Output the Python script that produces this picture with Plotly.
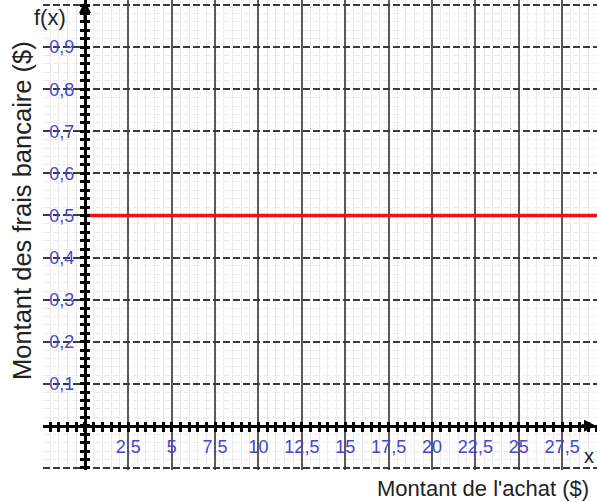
import plotly.graph_objects as go

# ---- data ----
x_vals = [0, 30]
f_vals = [0.5, 0.5]

x_tickvals = [-2.5, 2.5, 5, 7.5, 10, 12.5, 15, 17.5, 20, 22.5, 25, 27.5]
x_ticktext = ["", "2,5", "5", "7,5", "10", "12,5", "15", "17,5", "20", "22,5", "25", "27,5"]
y_tickvals = [-0.1, 0.1, 0.2, 0.3, 0.4, 0.5, 0.6, 0.7, 0.8, 0.9, 1.0]
y_ticktext = ["", "0,1", "0,2", "0,3", "0,4", "0,5", "0,6", "0,7", "0,8", "0,9", ""]

x_title = "Montant de l'achat ($)"
y_title = "Montant des frais bancaire ($)"

# ---- layout geometry ----
W, H = 597, 502
x_range = [-2.42, 29.51]
y_range = [-0.105, 1.012]
dom_x = [43 / W, 1.0]
dom_y = [32 / H, 1.0]

pos_y_axis = dom_x[0] + (0 - x_range[0]) / (x_range[1] - x_range[0]) * (dom_x[1] - dom_x[0])
pos_x_axis = dom_y[0] + (0 - y_range[0]) / (y_range[1] - y_range[0]) * (dom_y[1] - dom_y[0])

FONT = "Liberation Sans, Arial, sans-serif"
LBL = "#4646cf"

fig = go.Figure()
fig.add_trace(go.Scatter(x=x_vals, y=f_vals, mode="lines",
                         line=dict(color="#f01010", width=3.5), hoverinfo="skip",
                         showlegend=False))
# helper traces so the overlay axes (opposite-direction ticks) get drawn
fig.add_trace(go.Scatter(x=[None], y=[None], xaxis="x2", yaxis="y", showlegend=False))
fig.add_trace(go.Scatter(x=[None], y=[None], xaxis="x", yaxis="y2", showlegend=False))

tick_common = dict(ticklen=4, tickwidth=2.5, tickcolor="black")

fig.update_layout(
    width=W, height=H,
    margin=dict(l=0, r=0, t=0, b=0),
    paper_bgcolor="white", plot_bgcolor="white",
    showlegend=False,
    xaxis=dict(
        range=x_range, domain=dom_x, anchor="free", position=pos_x_axis,
        tickmode="array", tickvals=x_tickvals, ticktext=x_ticktext,
        ticks="outside", **tick_common,
        showgrid=True, gridcolor="#5a5a5a", gridwidth=1.6,
        showline=True, linecolor="black", linewidth=3,
        zeroline=False,
        tickfont=dict(family=FONT, size=18, color=LBL),
        ticklabelstandoff=0,
        minor=dict(tickmode="linear", tick0=0, dtick=0.5, showgrid=True,
                   gridcolor="#ebebeb", gridwidth=1,
                   ticks="outside", ticklen=4, tickwidth=2.5, tickcolor="black"),
        fixedrange=True,
    ),
    yaxis=dict(
        range=y_range, domain=dom_y, anchor="free", position=pos_y_axis,
        tickmode="array", tickvals=y_tickvals, ticktext=y_ticktext,
        ticks="outside", **tick_common,
        showgrid=True, gridcolor="#3a3a3a", gridwidth=1.5, griddash="7px,3px",
        showline=True, linecolor="black", linewidth=3,
        zeroline=False,
        tickfont=dict(family=FONT, size=18, color=LBL),
        ticklabelstandoff=2,
        minor=dict(tickmode="linear", tick0=0, dtick=0.02, showgrid=True,
                   gridcolor="#ebebeb", gridwidth=1,
                   ticks="outside", ticklen=4, tickwidth=2.5, tickcolor="black"),
        fixedrange=True,
    ),
    xaxis2=dict(
        range=x_range, overlaying="x", anchor="free", position=pos_x_axis,
        tickmode="array", tickvals=x_tickvals, ticks="inside", **tick_common,
        showticklabels=False, showgrid=False, zeroline=False, showline=False,
        minor=dict(tickmode="linear", tick0=0, dtick=0.5, showgrid=False,
                   ticks="inside", ticklen=4, tickwidth=2.5, tickcolor="black"),
        fixedrange=True,
    ),
    yaxis2=dict(
        range=y_range, overlaying="y", anchor="free", position=pos_y_axis,
        tickmode="array", tickvals=y_tickvals, ticks="inside", **tick_common,
        showticklabels=False, showgrid=False, zeroline=False, showline=False,
        minor=dict(tickmode="linear", tick0=0, dtick=0.02, showgrid=False,
                   ticks="inside", ticklen=4, tickwidth=2.5, tickcolor="black"),
        fixedrange=True,
    ),
    annotations=[
        # arrow on vertical axis
        dict(x=pos_y_axis, y=1.0, xref="paper", yref="paper", ax=0, ay=24,
             showarrow=True, arrowhead=2, arrowsize=0.8, arrowwidth=3,
             arrowcolor="black", text=""),
        # arrow on horizontal axis (cut by the right edge)
        dict(x=1.012, y=pos_x_axis, xref="paper", yref="paper", ax=-24, ay=0,
             showarrow=True, arrowhead=2, arrowsize=0.8, arrowwidth=3,
             arrowcolor="black", text=""),
        dict(x=50 / W, y=1 - 18 / H, xref="paper", yref="paper", text="f(x)",
             showarrow=False, font=dict(family=FONT, size=22, color="#222222"),
             xanchor="center", yanchor="middle"),
        dict(x=596 / W, y=1 - 456 / H, xref="paper", yref="paper", text="x",
             showarrow=False, font=dict(family=FONT, size=20, color="#222222"),
             xanchor="right", yanchor="middle"),
        dict(x=22 / W, y=1 - 211 / H, xref="paper", yref="paper", text=y_title,
             textangle=-90, showarrow=False,
             font=dict(family=FONT, size=25.5, color="#222222"),
             xanchor="center", yanchor="middle"),
        dict(x=591 / W, y=1 - 488 / H, xref="paper", yref="paper", text=x_title,
             showarrow=False, font=dict(family=FONT, size=22, color="#222222"),
             xanchor="right", yanchor="middle"),
    ],
)

fig.write_html(
    "out.html",
    config={"displayModeBar": False},
    post_script="document.body.style.margin='0';document.body.style.overflow='hidden';",
)
